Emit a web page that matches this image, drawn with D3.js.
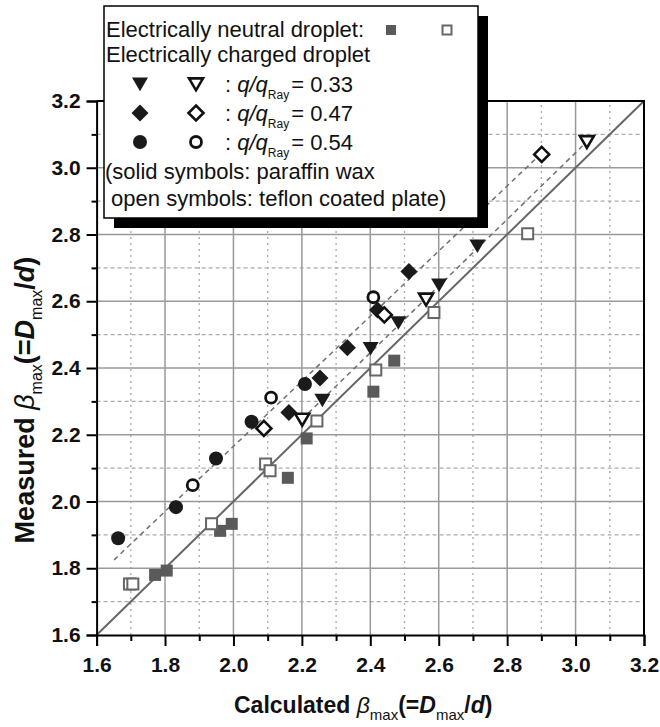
<!DOCTYPE html>
<html>
<head>
<meta charset="utf-8">
<title>Measured vs calculated beta max</title>
<script src="https://d3js.org/d3.v7.min.js"></script>
<style>
  body { margin: 0; background: #fff; }
  svg { display: block; font-family: "Liberation Sans", Arial, sans-serif; }
  .grid-major { stroke: #999; stroke-width: 1.5; }
  .grid-minor-v { stroke: #aaa; stroke-width: 1.3; stroke-dasharray: 2,4; }
  .grid-minor-h { stroke: #aaa; stroke-width: 1.3; stroke-dasharray: 4,3; }
  .axis .domain { stroke: #000; stroke-width: 2; }
  .axis line { stroke: #000; stroke-width: 2; }
  .axis text { font-size: 21px; font-weight: bold; fill: #111; font-family: "Liberation Sans", Arial, sans-serif; }
</style>
</head>
<body>
<svg id="chart" width="660" height="727"></svg>
<script>
// ticks
const majorTicks = [1.6, 1.8, 2.0, 2.2, 2.4, 2.6, 2.8, 3.0, 3.2];
const minorTicks = [1.7, 1.9, 2.1, 2.3, 2.5, 2.7, 2.9, 3.1];

// data: [calculated, measured]
const neutralParaffin = [[1.771,1.780],[1.805,1.793],[1.961,1.912],[1.995,1.933],[2.159,2.071],[2.214,2.189],[2.409,2.329],[2.470,2.422]];
const neutralTeflon = [[1.696,1.753],[1.706,1.753],[1.936,1.933],[2.094,2.112],[2.107,2.092],[2.244,2.241],[2.416,2.394],[2.586,2.566],[2.860,2.802]];
const q033Paraffin = [[2.260,2.304],[2.401,2.459],[2.482,2.536],[2.601,2.649],[2.713,2.766]];
const q033Teflon = [[2.201,2.246],[2.563,2.606],[3.033,3.078]];
const q047Paraffin = [[2.162,2.267],[2.253,2.370],[2.333,2.461],[2.421,2.574],[2.513,2.689]];
const q047Teflon = [[2.089,2.219],[2.441,2.559],[2.901,3.040]];
const q054Paraffin = [[1.663,1.890],[1.832,1.983],[1.949,2.129],[2.053,2.239],[2.209,2.352]];
const q054Teflon = [[1.881,2.049],[2.110,2.311],[2.409,2.612]];

// lines
const identityLine = [[1.6,1.6],[3.2,3.2]];
const fitUpper = [[1.651,1.825],[2.897,3.040]];
const fitLower = [[2.200,2.246],[3.033,3.078]];

const svg = d3.select("#chart");

const x = d3.scaleLinear().domain([1.6, 3.2]).range([96.6, 644]);
const y = d3.scaleLinear().domain([1.6, 3.2]).range([635, 101]);

// grid
const grid = svg.append("g");
grid.selectAll(".mv").data(minorTicks).enter().append("line")
  .attr("class", "grid-minor-v")
  .attr("x1", d => x(d)).attr("x2", d => x(d))
  .attr("y1", y(1.6)).attr("y2", y(3.2));
grid.selectAll(".mh").data(minorTicks).enter().append("line")
  .attr("class", "grid-minor-h")
  .attr("y1", d => y(d)).attr("y2", d => y(d))
  .attr("x1", x(1.6)).attr("x2", x(3.2));
grid.selectAll(".gv").data(majorTicks.slice(1, -1)).enter().append("line")
  .attr("class", "grid-major")
  .attr("x1", d => x(d)).attr("x2", d => x(d))
  .attr("y1", y(1.6)).attr("y2", y(3.2));
grid.selectAll(".gh").data(majorTicks.slice(1, -1)).enter().append("line")
  .attr("class", "grid-major")
  .attr("y1", d => y(d)).attr("y2", d => y(d))
  .attr("x1", x(1.6)).attr("x2", x(3.2));

// lines
const line = d3.line().x(d => x(d[0])).y(d => y(d[1]));
svg.append("path").attr("d", line(identityLine))
  .attr("fill", "none").attr("stroke", "#666").attr("stroke-width", 2);
[fitUpper, fitLower].forEach(f => {
  svg.append("path").attr("d", line(f))
    .attr("fill", "none").attr("stroke", "#707070")
    .attr("stroke-width", 1.5).attr("stroke-dasharray", "5,4");
});

// frame (top / right)
svg.append("path")
  .attr("d", `M${x(1.6)},${y(3.2)}H${x(3.2)}V${y(1.6)}`)
  .attr("fill", "none").attr("stroke", "#000").attr("stroke-width", 2);

// axes
const fmt = d3.format(".1f");
svg.append("g").attr("class", "axis").attr("transform", `translate(0,${y(1.6)})`)
  .call(d3.axisBottom(x).tickValues(majorTicks).tickSize(11).tickPadding(11).tickFormat(fmt));
svg.append("g").attr("class", "axis").attr("transform", `translate(0,${y(1.6)})`)
  .call(d3.axisBottom(x).tickValues(minorTicks).tickSize(6).tickFormat(""))
  .select(".domain").remove();

svg.append("g").attr("class", "axis").attr("transform", `translate(${x(1.6)},0)`)
  .call(d3.axisLeft(y).tickValues(majorTicks).tickSize(10).tickPadding(6).tickFormat(fmt));
svg.append("g").attr("class", "axis").attr("transform", `translate(${x(1.6)},0)`)
  .call(d3.axisLeft(y).tickValues(minorTicks).tickSize(5).tickFormat(""))
  .select(".domain").remove();

// markers
function shapePath(shape, h) {
  if (shape == "square") return `M${-h},${-h}H${h}V${h}H${-h}Z`;
  if (shape == "diamond") return `M0,${-h}L${h},0L0,${h}L${-h},0Z`;
  if (shape == "triangle") return `M${-h},${-h * 0.8}L${h},${-h * 0.8}L0,${h * 0.9}Z`;
  return d3.symbol().type(d3.symbolCircle).size(Math.PI * h * h)();
}

const styles = {
  sqFill:  {shape: "square", h: 6, fill: "#5a5a5a", stroke: "none", sw: 0},
  sqOpen:  {shape: "square", h: 5.5, fill: "#fff", stroke: "#666", sw: 2},
  triFill: {shape: "triangle", h: 8, fill: "#1a1a1a", stroke: "none", sw: 0},
  triOpen: {shape: "triangle", h: 7, fill: "#fff", stroke: "#111", sw: 2.6},
  diaFill: {shape: "diamond", h: 8.5, fill: "#1a1a1a", stroke: "none", sw: 0},
  diaOpen: {shape: "diamond", h: 7.5, fill: "#fff", stroke: "#111", sw: 2.6},
  cirFill: {shape: "circle", h: 7, fill: "#1a1a1a", stroke: "none", sw: 0},
  cirOpen: {shape: "circle", h: 5.5, fill: "#fff", stroke: "#111", sw: 2.8}
};

function drawSeries(data, st) {
  svg.append("g").selectAll("path").data(data).enter().append("path")
    .attr("transform", d => `translate(${x(d[0])},${y(d[1])})`)
    .attr("d", shapePath(st.shape, st.h))
    .attr("fill", st.fill).attr("stroke", st.stroke).attr("stroke-width", st.sw);
}

drawSeries(neutralParaffin, styles.sqFill);
drawSeries(neutralTeflon, styles.sqOpen);
drawSeries(q054Paraffin, styles.cirFill);
drawSeries(q054Teflon, styles.cirOpen);
drawSeries(q047Paraffin, styles.diaFill);
drawSeries(q047Teflon, styles.diaOpen);
drawSeries(q033Paraffin, styles.triFill);
drawSeries(q033Teflon, styles.triOpen);

// axis titles
function titleParts(t, sub, shift) {
  t.append("tspan").attr("font-style", "italic").attr("font-weight", "normal").text("\u03b2");
  t.append("tspan").attr("font-size", sub).attr("font-weight", "normal").attr("dy", shift).text("max");
  t.append("tspan").attr("dy", -shift).text("(=");
  t.append("tspan").attr("font-style", "italic").text("D");
  t.append("tspan").attr("font-size", sub).attr("font-weight", "normal").attr("dy", shift).text("max");
  t.append("tspan").attr("dy", -shift).text("/");
  t.append("tspan").attr("font-style", "italic").text("d");
  t.append("tspan").text(")");
}

const xt = svg.append("text").attr("x", 234).attr("y", 713)
  .attr("font-size", 23).attr("font-weight", "bold").attr("fill", "#111");
xt.append("tspan").text("Calculated ");
titleParts(xt, 15, 7);

const yt = svg.append("text").attr("transform", "translate(34,400) rotate(-90)")
  .attr("text-anchor", "middle")
  .attr("font-size", 27).attr("font-weight", "bold").attr("fill", "#111");
yt.append("tspan").text("Measured ");
titleParts(yt, 16, 8);

// legend
const lg = svg.append("g");
lg.append("rect").attr("x", 114).attr("y", 16).attr("width", 374).attr("height", 212).attr("fill", "#000");
lg.append("rect").attr("x", 104).attr("y", 6).attr("width", 374).attr("height", 212)
  .attr("fill", "#fff").attr("stroke", "#000").attr("stroke-width", 1.5);

const legendFont = 22;
function legendText(tx, ty, str) {
  return lg.append("text").attr("x", tx).attr("y", ty)
    .attr("font-size", legendFont).attr("fill", "#111").attr("xml:space", "preserve").text(str);
}
legendText(106, 37, "Electrically neutral droplet:");
legendText(106, 62, "Electrically charged droplet");
legendText(105, 179, "(solid symbols: paraffin wax");
legendText(105, 206, " open symbols: teflon coated plate)");

function legendMark(cx, cy, st) {
  lg.append("path").attr("transform", `translate(${cx},${cy})`)
    .attr("d", shapePath(st.shape, st.h))
    .attr("fill", st.fill).attr("stroke", st.stroke).attr("stroke-width", st.sw);
}
legendMark(391, 30, {shape: "square", h: 5, fill: "#5a5a5a", stroke: "none", sw: 0});
legendMark(447, 30, {shape: "square", h: 4.5, fill: "#fff", stroke: "#666", sw: 2});

const legendRows = [
  {label: "0.33", y: 92, solid: styles.triFill, open: styles.triOpen},
  {label: "0.47", y: 121, solid: styles.diaFill, open: styles.diaOpen},
  {label: "0.54", y: 150, solid: styles.cirFill, open: styles.cirOpen}
];
legendRows.forEach(r => {
  legendMark(140, r.y - 8, r.solid);
  legendMark(196, r.y - 8, r.open);
  const t = lg.append("text").attr("x", 225).attr("y", r.y)
    .attr("font-size", legendFont).attr("fill", "#111").attr("xml:space", "preserve");
  t.append("tspan").text(": ");
  t.append("tspan").attr("font-style", "italic").text("q/q");
  t.append("tspan").attr("font-size", 12).attr("dy", 7).text("Ray");
  t.append("tspan").attr("dy", -7).attr("dx", 2).text("= " + r.label);
});
</script>
</body>
</html>
